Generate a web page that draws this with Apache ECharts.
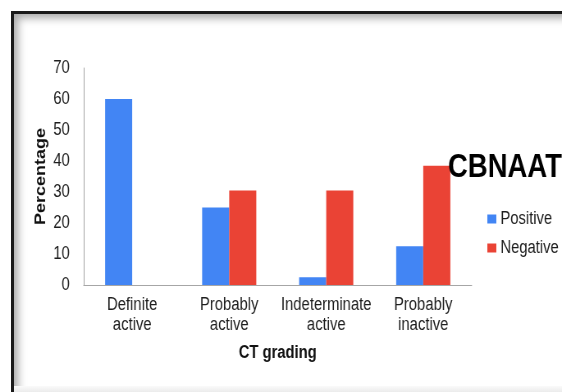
<!DOCTYPE html>
<html>
<head>
<meta charset="utf-8">
<script src="https://cdn.jsdelivr.net/npm/echarts@6/dist/echarts.min.js"></script>
<style>
  html, body { margin: 0; padding: 0; background: #fff; }
  #wrap { position: relative; width: 562px; height: 392px; overflow: hidden; background: #fff; }
  /* the chart is laid out wider and squeezed horizontally to fit the slide */
  #chart {
    position: absolute; left: 0; top: 0; width: 685px; height: 392px;
    transform: scaleX(0.8204); transform-origin: 0 0;
  }
  /* slide frame: dark top/left edge with a soft inner shadow */
  #frame {
    position: absolute; left: 11px; top: 11px; width: 600px; height: 420px;
    border-top: 3px solid #1a1a1a; border-left: 3px solid #1a1a1a;
    box-shadow: inset 7px 7px 8px -3px rgba(0,0,0,0.35);
    pointer-events: none;
  }
  #foot {
    position: absolute; left: 14px; right: 0; bottom: 0; height: 6px;
    background: linear-gradient(#fafafa, #ebebeb);
    pointer-events: none;
  }
</style>
</head>
<body>
<div id="wrap">
  <div id="chart"></div>
  <div id="frame"></div>
  <div id="foot"></div>
</div>
<script>
// CT grading categories and CBNAAT result percentages
const categories = ['Definite\nactive', 'Probably\nactive', 'Indeterminate\nactive', 'Probably\ninactive'];
const positiveValues = [60, 25, 2.5, 12.5];
const negativeValues = [0, 30.5, 30.5, 38.5];
const yTicks = { min: 0, max: 70, interval: 10 };

const FONT = '"Liberation Sans", Arial, sans-serif';

const chart = echarts.init(document.getElementById('chart'), null, { renderer: 'canvas', width: 685, height: 392 });
chart.setOption({
  animation: false,
  backgroundColor: 'transparent',
  textStyle: { fontFamily: FONT },
  title: {
    text: 'CBNAAT',
    left: 541,
    top: 146,
    textStyle: { fontFamily: FONT, fontSize: 33.5, fontWeight: 'bold', color: '#000' }
  },
  legend: {
    orient: 'vertical',
    left: 589,
    top: 205,
    itemWidth: 11,
    itemHeight: 9,
    itemGap: 11,
    icon: 'rect',
    textStyle: { fontFamily: FONT, fontSize: 18, color: '#1e1e1e' },
    data: ['Positive', 'Negative']
  },
  grid: { left: 102, right: 110, top: 68, bottom: 107, containLabel: false },
  xAxis: {
    type: 'category',
    data: categories,
    name: 'CT grading',
    nameLocation: 'middle',
    nameGap: 59,
    nameMoveOverlap: false,
    nameTextStyle: { fontFamily: FONT, fontSize: 18, fontWeight: 'bold', color: '#111' },
    axisLine: { show: true, lineStyle: { color: '#a6a6a6', width: 1 } },
    axisTick: { show: false },
    axisLabel: { fontFamily: FONT, fontSize: 18, color: '#1e1e1e', lineHeight: 20, margin: 10, interval: 0 }
  },
  yAxis: {
    type: 'value',
    min: yTicks.min,
    max: yTicks.max,
    interval: yTicks.interval,
    name: 'Percentage',
    nameLocation: 'middle',
    nameGap: 43,
    nameMoveOverlap: false,
    nameTextStyle: { fontFamily: FONT, fontSize: 18, fontWeight: 'bold', color: '#111' },
    axisLine: { show: true, lineStyle: { color: '#a6a6a6', width: 1 } },
    axisTick: { show: false },
    splitLine: { show: false },
    axisLabel: { fontFamily: FONT, fontSize: 18, color: '#1e1e1e', margin: 17 }
  },
  series: [
    {
      name: 'Positive',
      type: 'bar',
      data: positiveValues,
      barWidth: 33,
      barGap: '0%',
      itemStyle: { color: '#4285f4' }
    },
    {
      name: 'Negative',
      type: 'bar',
      data: negativeValues,
      barWidth: 33,
      itemStyle: { color: '#ea4335' }
    }
  ]
});
</script>
</body>
</html>
